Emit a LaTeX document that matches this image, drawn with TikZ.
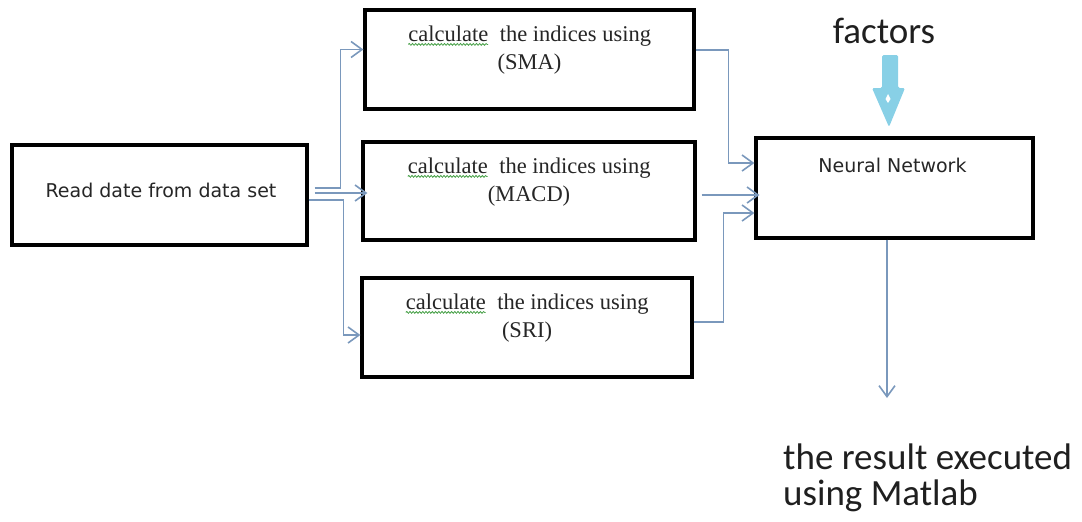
\documentclass[tikz,border=0pt]{standalone}
\usepackage{fontspec}
\setmainfont{Liberation Serif}
\newfontfamily\boxsans{DejaVu Sans}
\newfontfamily\notefont{Carlito}
\usetikzlibrary{arrows.meta,decorations.pathmorphing,calc}

\definecolor{linkblue}{RGB}{122,152,188}
\definecolor{factorblue}{RGB}{136,208,230}
\definecolor{spellgreen}{RGB}{70,160,70}

% word with a green wavy underline
\newcommand\wavyword[1]{\tikz[baseline=(w.base)]{%
  \node[inner sep=0pt,outer sep=0pt] (w) {#1};
  \draw[spellgreen,line width=0.8pt,decorate,
        decoration={snake,amplitude=0.9pt,segment length=3.2pt}]
    ([yshift=-3pt]w.base west) -- ([yshift=-3pt]w.base east);}}

\tikzset{
  stagebox/.style={draw=black,line width=3.2pt,inner sep=0pt,fill=white},
  sanslabel/.style={font=\boxsans\fontsize{19}{23}\selectfont,inner sep=0pt,text=black!85},
  seriflabel/.style={font=\fontsize{22.5}{28}\selectfont,inner sep=0pt,align=center,text=black!85},
  notelabel/.style={font=\notefont\fontsize{37}{36}\selectfont,inner sep=0pt,text=black!88},
  link/.style={draw=linkblue,line width=1.6pt,
    -{Straight Barb[length=11pt,width=16pt,line width=1.6pt]}},
}

\begin{document}
\begin{tikzpicture}[x=1pt,y=-1pt]
\useasboundingbox (0,0) rectangle (1082,522);

% boxes
\node[stagebox,minimum width=295pt,minimum height=100pt] (read) at (159.5,195) {};
\node[stagebox,minimum width=329pt,minimum height=99pt]  (sma)  at (529.5,59.5) {};
\node[stagebox,minimum width=332pt,minimum height=98pt]  (macd) at (529,191) {};
\node[stagebox,minimum width=330pt,minimum height=99pt]  (sri)  at (527,327.5) {};
\node[stagebox,minimum width=277pt,minimum height=100pt] (nn)   at (894.5,188) {};

% box texts (a two-line node sits on the baseline of its last line)
\node[sanslabel,anchor=base] (readtxt) at (161,197) {Read date from data set};
\node[sanslabel,anchor=base] (nntxt) at (892.5,172) {Neural Network};
\node[seriflabel,anchor=base] (smatxt) at ([yshift=-61pt]sma.north)
  {\wavyword{calculate}\ \ the indices using\\(SMA)};
\node[seriflabel,anchor=base] (macdtxt) at ([yshift=-61pt]macd.north)
  {\wavyword{calculate}\ \ the indices using\\(MACD)};
\node[seriflabel,anchor=base] (sritxt) at ([yshift=-61pt]sri.north)
  {\wavyword{calculate}\ \ the indices using\\(SRI)};

% free texts
\node[notelabel,anchor=base] (factors) at (884,43) {factors};
\node[notelabel,anchor=base west,align=left] (result) at (783,505)
  {the result executed\\using Matlab};

% connectors from the data box to the three index boxes
\draw[link] ([shift={(6pt,7pt)}]read.east) -- ++(26,0) |- ([yshift=10pt]sma.west);
\draw[link] ([shift={(6pt,2pt)}]read.east) -- ([shift={(6pt,2pt)}]read.east -| macd.west);
\draw[link] ([yshift=-5pt]read.east) -- ++(35,0) |- ([yshift=-7.5pt]sri.west);

% connectors from the index boxes to the network
\draw[link] ([yshift=9.5pt]sma.east) -- ++(33,0) |- ([yshift=25pt]nn.west);
\draw[link] ([shift={(5pt,-4pt)}]macd.east) -- ([shift={(5pt,-4pt)}]macd.east -| nn.west);
\draw[link] ([yshift=5.5pt]sri.east) -- ++(30,0) |- ([yshift=-25pt]nn.west);

% factors block arrow into the network
\coordinate (fa) at (890,55);
\coordinate (fb) at (889,127);
\fill[factorblue,rounded corners=1.5pt]
  ([xshift=-8pt]fa) -- ([xshift=8pt]fa) -- ([xshift=8pt]fa |- 0,88)
  -- (905,88) -- (fb) -- (872,88) -- ([xshift=-8pt]fa |- 0,88) -- cycle;
\fill[white] (888,94) -- (890.5,99) -- (888,103) -- (885.5,99) -- cycle;

% result arrow
\coordinate (res) at (887,398);
\draw[link] ([xshift=-7.5pt]nn.south) -- (res);
\end{tikzpicture}
\end{document}
